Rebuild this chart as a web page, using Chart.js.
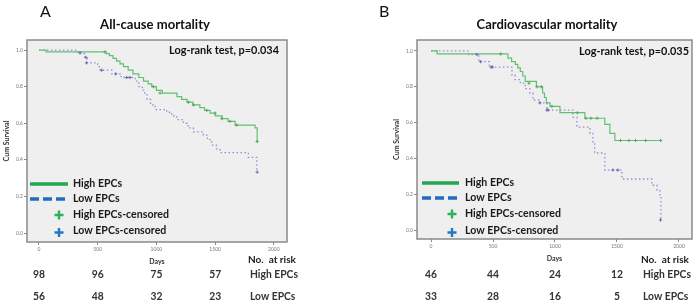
<!DOCTYPE html>
<html><head><meta charset="utf-8">
<script src="https://cdn.jsdelivr.net/npm/chart.js@4.4.1/dist/chart.umd.min.js"></script>
<style>
html,body{margin:0;padding:0;background:#fff;}
#wrap{position:relative;width:698px;height:306px;overflow:hidden;background:#fff;}
canvas{position:absolute;top:0;}
</style></head><body>
<div id="wrap">
<canvas id="cA" width="349" height="306" style="left:0px;width:349px;height:306px"></canvas>
<canvas id="cB" width="349" height="306" style="left:349px;width:349px;height:306px"></canvas>
</div>
<script>
// ---------- data ----------
const xTicks = [0, 500, 1000, 1500, 2000];
const yTicks = [0, 0.2, 0.4, 0.6, 0.8, 1.0];
const riskDays = [0, 500, 1000, 1500];
const seriesNames = ['High EPCs', 'Low EPCs', 'High EPCs-censored', 'Low EPCs-censored'];

// Panel A: all-cause mortality
const aHighDays = [0, 60, 570, 600, 630, 660, 690, 720, 760, 800, 850, 890, 930, 960, 1000, 1050, 1175, 1215, 1260, 1310, 1370, 1410, 1457, 1500, 1560, 1610, 1670, 1840, 1858];
const aHighSurv = [1.0, 0.99, 0.98, 0.97, 0.955, 0.94, 0.925, 0.91, 0.89, 0.87, 0.85, 0.83, 0.815, 0.80, 0.78, 0.765, 0.745, 0.73, 0.715, 0.70, 0.685, 0.67, 0.655, 0.64, 0.625, 0.61, 0.59, 0.575, 0.50];
const aLowDays = [0, 330, 390, 410, 500, 520, 620, 700, 820, 850, 880, 900, 920, 950, 990, 1088, 1130, 1173, 1230, 1270, 1315, 1400, 1435, 1471, 1510, 1542, 1783, 1855];
const aLowSurv = [1.0, 0.98, 0.96, 0.93, 0.91, 0.89, 0.87, 0.85, 0.83, 0.80, 0.78, 0.755, 0.73, 0.70, 0.675, 0.66, 0.64, 0.62, 0.60, 0.575, 0.553, 0.535, 0.51, 0.48, 0.46, 0.44, 0.414, 0.333];
const aHighCensDays = [562, 974, 1031, 1272, 1315, 1429, 1500, 1557, 1627, 1684, 1858];
const aHighCensSurv = [0.99, 0.80, 0.765, 0.715, 0.70, 0.67, 0.655, 0.625, 0.61, 0.59, 0.50];
const aLowCensDays = [350, 400, 405, 534, 653, 747, 775, 1858];
const aLowCensSurv = [0.985, 0.96, 0.93, 0.89, 0.87, 0.85, 0.85, 0.333];
const aHighRisk = [98, 96, 75, 57];
const aLowRisk = [56, 48, 32, 23];

// Panel B: cardiovascular mortality
const bHighDays = [0, 50, 620, 650, 680, 700, 720, 740, 760, 850, 900, 915, 930, 960, 1040, 1241, 1402, 1443, 1483, 1855];
const bHighSurv = [1.0, 0.983, 0.96, 0.94, 0.925, 0.905, 0.885, 0.86, 0.83, 0.80, 0.765, 0.74, 0.71, 0.69, 0.655, 0.624, 0.59, 0.54, 0.50, 0.50];
const bLowDays = [0, 305, 385, 470, 653, 677, 720, 760, 798, 822, 878, 935, 1144, 1177, 1282, 1306, 1320, 1402, 1540, 1781, 1822, 1846, 1854];
const bLowSurv = [1.0, 0.98, 0.94, 0.91, 0.865, 0.84, 0.82, 0.79, 0.765, 0.726, 0.71, 0.67, 0.63, 0.575, 0.54, 0.486, 0.43, 0.335, 0.285, 0.25, 0.22, 0.185, 0.056];
const bHighCensDays = [562, 790, 855, 890, 975, 1180, 1250, 1290, 1340, 1529, 1596, 1650, 1731, 1852];
const bHighCensSurv = [0.983, 0.82, 0.80, 0.80, 0.69, 0.655, 0.624, 0.624, 0.624, 0.50, 0.50, 0.50, 0.50, 0.50];
const bLowCensDays = [370, 400, 485, 495, 878, 935, 945, 1467, 1507, 1851];
const bLowCensSurv = [0.98, 0.94, 0.91, 0.91, 0.71, 0.67, 0.67, 0.335, 0.335, 0.056];
const bHighRisk = [46, 44, 24, 12];
const bLowRisk = [33, 28, 16, 5];

// ---------- helpers ----------
const FAM = 'Lato, "Open Sans", sans-serif';
function pts(days, surv) { return days.map((d, i) => ({ x: d, y: surv[i] })); }
function fitSize(ctx, text, weight, width) {
  ctx.font = weight + ' 20px ' + FAM;
  return 20 * width / ctx.measureText(text).width;
}
function txt(ctx, text, x, y, size, weight, align, color) {
  ctx.font = weight + ' ' + size + 'px ' + FAM;
  ctx.textAlign = align; ctx.textBaseline = 'middle';
  ctx.fillStyle = color;
  ctx.fillText(text, x, y);
}

const panelPlugin = {
  id: 'panel',
  beforeDatasetsDraw(chart) {
    const { ctx, chartArea: a } = chart;
    ctx.save();
    ctx.fillStyle = '#efefef';
    ctx.fillRect(a.left, a.top, a.width, a.height);
    ctx.restore();
  },
  afterDraw(chart, args, o) {
    const { ctx, chartArea: a } = chart;
    const xs = chart.scales.x;
    ctx.save();
    ctx.strokeStyle = '#8a8a8a'; ctx.lineWidth = 1.5; ctx.setLineDash([]);
    ctx.strokeRect(a.left, a.top, a.width, a.height);
    txt(ctx, o.letter, o.letterX, 12, 16, 'normal', 'left', '#111');
    txt(ctx, o.title, o.titleX, 25, fitSize(ctx, o.title, 'bold', o.titleW), 'bold', 'center', '#111');
    txt(ctx, o.logrank, o.logX, o.logY, fitSize(ctx, o.logrank, 'bold', 110), 'bold', 'right', '#111');
    const lg = o.legend;
    ctx.lineWidth = 3.5;
    ctx.strokeStyle = '#22a753';
    ctx.beginPath(); ctx.moveTo(lg.x1, lg.ys[0]); ctx.lineTo(lg.x2, lg.ys[0]); ctx.stroke();
    ctx.strokeStyle = '#1f6cc0'; ctx.setLineDash([9, 4]);
    ctx.beginPath(); ctx.moveTo(lg.x1, lg.ys[1]); ctx.lineTo(lg.x2, lg.ys[1]); ctx.stroke();
    ctx.setLineDash([]);
    ctx.lineWidth = 2.4;
    const plus = (cx, cy, col) => {
      ctx.strokeStyle = col; ctx.beginPath();
      ctx.moveTo(cx - 4.5, cy); ctx.lineTo(cx + 4.5, cy);
      ctx.moveTo(cx, cy - 4.5); ctx.lineTo(cx, cy + 4.5); ctx.stroke();
    };
    plus(lg.px, lg.ys[2], '#2bb35a');
    plus(lg.px, lg.ys[3] + 1.5, '#1f78c8');
    const ls = fitSize(ctx, seriesNames[2], 'bold', 96);
    seriesNames.forEach((n, i) => txt(ctx, n, lg.tx, lg.ys[i], ls, 'bold', 'left', '#1a1a1a'));
    const rs = fitSize(ctx, 'High EPCs', 'bold', 48);
    txt(ctx, 'No.  at risk', o.riskLabelX - 2, 260, fitSize(ctx, 'No.  at risk', 'bold', 48), 'bold', 'left', '#222');
    riskDays.forEach((d, i) => {
      const px = xs.getPixelForValue(d);
      txt(ctx, String(o.highRisk[i]), px, 275, rs, 'bold', 'center', '#333');
      txt(ctx, String(o.lowRisk[i]), px, 296.5, rs, 'bold', 'center', '#333');
    });
    txt(ctx, 'High EPCs', o.riskLabelX, 275, rs, 'bold', 'left', '#333');
    txt(ctx, 'Low EPCs', o.riskLabelX, 296.5, rs, 'bold', 'left', '#333');
    ctx.restore();
  }
};

function makeChart(id, p) {
  return new Chart(document.getElementById(id), {
    type: 'line',
    data: {
      datasets: [
        { label: seriesNames[0], data: pts(p.hd, p.hs), stepped: 'before', borderColor: '#62c070', borderWidth: 1.2, pointRadius: 0, fill: false, order: 2 },
        { label: seriesNames[1], data: pts(p.ld, p.ls), stepped: 'before', borderColor: '#8f8fd2', borderWidth: 1.3, borderDash: [1.5, 2.5], pointRadius: 0, fill: false, order: 3 },
        { label: seriesNames[2], data: pts(p.hcd, p.hcs), showLine: false, pointStyle: 'cross', pointRadius: 1.6, pointBorderColor: '#55a865', pointBorderWidth: 1, order: 1 },
        { label: seriesNames[3], data: pts(p.lcd, p.lcs), showLine: false, pointStyle: 'cross', pointRadius: 1.6, pointBorderColor: '#6a6ab4', pointBorderWidth: 1, order: 1 }
      ]
    },
    options: {
      responsive: false, animation: false, devicePixelRatio: 1,
      layout: { padding: p.pad },
      plugins: { legend: { display: false }, tooltip: { enabled: false }, panel: p.text },
      scales: {
        x: {
          type: 'linear', min: p.xMin, max: p.xMax,
          afterBuildTicks: s => { s.ticks = xTicks.map(v => ({ value: v })); },
          afterFit: s => { s.height = 23; },
          grid: { display: true, drawOnChartArea: false, drawTicks: true, tickLength: 3, color: '#8a8a8a', lineWidth: 1 },
          border: { display: false },
          ticks: { font: { family: FAM, size: 5 }, color: '#777', padding: 1, maxRotation: 0, autoSkip: false, callback: v => String(v) },
          title: { display: true, text: 'Days', font: { family: FAM, size: 7, weight: 'bold', lineHeight: 1 }, color: '#333', padding: 0 }
        },
        y: {
          type: 'linear', min: p.yMin, max: p.yMax,
          afterBuildTicks: s => { s.ticks = yTicks.map(v => ({ value: v })); },
          afterFit: s => { s.width = 24; },
          grid: { display: true, drawOnChartArea: false, drawTicks: true, tickLength: 3, color: '#8a8a8a', lineWidth: 1 },
          border: { display: false },
          ticks: { font: { family: FAM, size: 5 }, color: '#777', padding: 1, autoSkip: false, callback: v => Number(v).toFixed(1) },
          title: { display: true, text: 'Cum Survival', font: { family: FAM, size: 7, weight: 'bold', lineHeight: 1 }, color: '#333', padding: 0 }
        }
      }
    },
    plugins: [panelPlugin]
  });
}

makeChart('cA', {
  hd: aHighDays, hs: aHighSurv, ld: aLowDays, ls: aLowSurv,
  hcd: aHighCensDays, hcs: aHighCensSurv, lcd: aLowCensDays, lcs: aLowCensSurv,
  xMin: -102, xMax: 2112, yMin: -0.049, yMax: 1.055,
  pad: { left: 3, top: 40, right: 62, bottom: 41 },
  text: {
    letter: 'A', letterX: 40, title: 'All-cause mortality', titleX: 155, titleW: 110,
    logrank: 'Log-rank test, p=0.034', logX: 279, logY: 50,
    legend: { x1: 30, x2: 68, tx: 73, px: 59, ys: [184, 199, 215, 231] },
    riskLabelX: 250, highRisk: aHighRisk, lowRisk: aLowRisk
  }
});

makeChart('cB', {
  hd: bHighDays, hs: bHighSurv, ld: bLowDays, ls: bLowSurv,
  hcd: bHighCensDays, hcs: bHighCensSurv, lcd: bLowCensDays, lcs: bLowCensSurv,
  xMin: -113, xMax: 2105, yMin: -0.05, yMax: 1.061,
  pad: { left: 44, top: 40, right: 6, bottom: 44 },
  text: {
    letter: 'B', letterX: 30, title: 'Cardiovascular mortality', titleX: 198, titleW: 141,
    logrank: 'Log-rank test, p=0.035', logX: 340, logY: 51,
    legend: { x1: 73, x2: 110, tx: 116, px: 103, ys: [183, 198, 214, 231] },
    riskLabelX: 294, highRisk: bHighRisk, lowRisk: bLowRisk
  }
});
</script>
</body></html>
